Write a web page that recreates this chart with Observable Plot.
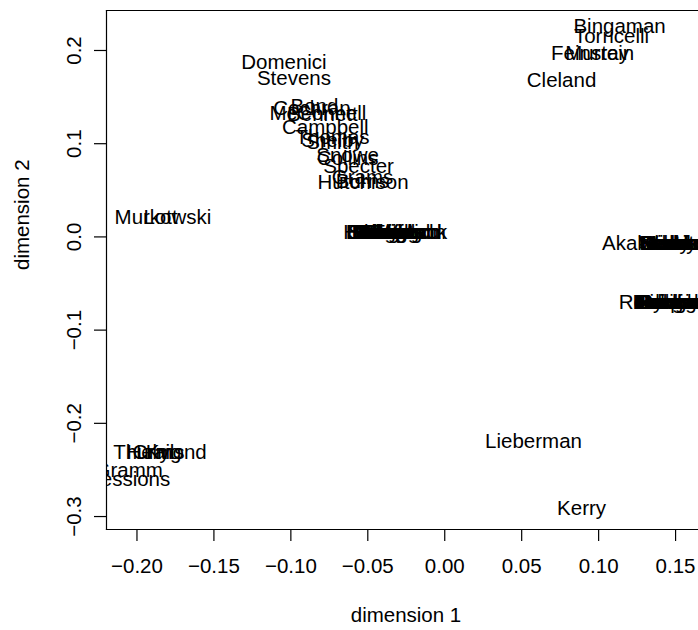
<!DOCTYPE html>
<html><head><meta charset="utf-8">
<script src="https://cdn.jsdelivr.net/npm/d3@7"></script>
<script src="https://cdn.jsdelivr.net/npm/@observablehq/plot@0.6"></script>
<style>html,body{margin:0;padding:0;background:#fff;} svg{display:block}</style>
</head><body><div id="chart"></div>
<script>
const senators = [
  "Bingaman","Torricelli","Feinstein","Murray","Cleland",
  "Domenici","Stevens","Cochran","Bond","McConnell","Bennett","Campbell","Thomas","Smith","Shelby",
  "Snowe","Collins","Specter","Grams","Burns","Hutchison",
  "Murkowski","Lott",
  "Thurmond","Helms","Kyl","Craig","Gramm","Sessions",
  "Lieberman","Kerry",
  "Brownback","Enzi","Allard","Allen","Bunning","Crapo","DeWine","Ensign","Fitzgerald","Frist",
  "Gregg","Hagel","Hatch","Hutchinson","Inhofe","Nickles","Roberts","Santorum","Voinovich","Warner",
  "Akaka","Sarbanes","Wellstone","Daschle","Schumer","Kennedy","Durbin","Harkin","Levin","Boxer",
  "Leahy","Mikulski","Reed","Inouye","Dodd","Clinton","Corzine",
  "Rockefeller","Reid","Conrad","Dorgan","Byrd","Hollings","Feingold","Johnson","Nelson","Baucus",
  "Breaux","Lincoln","Carper","Landrieu"
];
const dim1 = [
  0.1136, 0.1084, 0.0961, 0.0990, 0.0759,
  -0.1045, -0.0980, -0.0863, -0.0847, -0.0824, -0.0795, -0.0776, -0.0729, -0.0729, -0.0729,
  -0.0631, -0.0631, -0.0560, -0.0534, -0.0534, -0.0531,
  -0.1831, -0.1847,
  -0.1850, -0.1880, -0.1850, -0.1870, -0.2054, -0.2054,
  0.0577, 0.0889,
  -0.0313, -0.0469, -0.0385, -0.0417, -0.0391, -0.0352, -0.0365, -0.0378, -0.0313, -0.0339,
  -0.0352, -0.0365, -0.0339, -0.0326, -0.0378, -0.0352, -0.0365, -0.0339, -0.0313, -0.0352,
  0.1207, 0.1545, 0.1552, 0.1506, 0.1532, 0.1532, 0.1467, 0.1467, 0.1435, 0.1441,
  0.1454, 0.1506, 0.1428, 0.1467, 0.1428, 0.1474, 0.1493,
  0.1464, 0.1370, 0.1467, 0.1480, 0.1402, 0.1467, 0.1493, 0.1493, 0.1454, 0.1467,
  0.1454, 0.1467, 0.1454, 0.1480
];
const dim2 = [
  0.2258, 0.2150, 0.1968, 0.1968, 0.1678,
  0.1871, 0.1700, 0.1375, 0.1400, 0.1320, 0.1310, 0.1170, 0.1070, 0.1010, 0.1030,
  0.0870, 0.0840, 0.0755, 0.0640, 0.0590, 0.0584,
  0.0208, 0.0208,
  -0.2313, -0.2313, -0.2313, -0.2313, -0.2506, -0.2603,
  -0.2195, -0.2914,
  0.0047, 0.0047, 0.0047, 0.0050, 0.0044, 0.0047, 0.0047, 0.0050, 0.0047, 0.0044,
  0.0047, 0.0047, 0.0050, 0.0047, 0.0044, 0.0047, 0.0047, 0.0050, 0.0047, 0.0044,
  -0.0071, -0.0071, -0.0074, -0.0068, -0.0071, -0.0074, -0.0071, -0.0068, -0.0071, -0.0074,
  -0.0071, -0.0068, -0.0071, -0.0074, -0.0071, -0.0068, -0.0071,
  -0.0704, -0.0704, -0.0707, -0.0701, -0.0704, -0.0707, -0.0704, -0.0701, -0.0704, -0.0707,
  -0.0704, -0.0701, -0.0704, -0.0707
];
const xTicks = [-0.20, -0.15, -0.10, -0.05, 0.00, 0.05, 0.10, 0.15];
const yTicks = [-0.3, -0.2, -0.1, 0.0, 0.1, 0.2];
const xDomain = [-0.2198, 0.1649];
const yDomain = [-0.3139, 0.2429];
const xTitle = "dimension 1";
const yTitle = "dimension 2";

const data = senators.map((name, i) => ({name, d1: dim1[i], d2: dim2[i]}));
const font = "'Liberation Sans', Arial, Helvetica, sans-serif";

const chart = Plot.plot({
  width: 698, height: 630,
  marginLeft: 106, marginTop: 10, marginBottom: 101, marginRight: 0,
  style: `font-family: ${font}; font-size: 20.5px; background: #fff; color: #000;`,
  x: {domain: xDomain},
  y: {domain: yDomain},
  marks: [
    Plot.frame({anchor: "left", stroke: "#000", strokeWidth: 1.2}),
    Plot.frame({anchor: "top", stroke: "#000", strokeWidth: 1.2}),
    Plot.frame({anchor: "bottom", stroke: "#000", strokeWidth: 1.2}),
    Plot.axisX({ticks: xTicks, tickSize: 12, tickPadding: 17, tickFormat: d3.format(".2f"), label: null, strokeWidth: 1.2}),
    Plot.axisY({ticks: yTicks, tickSize: 12, tickPadding: 14, tickRotate: -90, tickFormat: d3.format(".1f"), label: null, strokeWidth: 1.2}),
    Plot.text(data, {x: "d1", y: "d2", text: "name", fill: "#000", fontSize: 20.5, clip: true}),
    Plot.text([xTitle], {frameAnchor: "bottom", dy: 77.5, dx: 3.5, lineAnchor: "top", fill: "#000"}),
    Plot.text([yTitle], {frameAnchor: "left", dx: -77.5, rotate: -90, lineAnchor: "bottom", fill: "#000"})
  ]
});
document.getElementById("chart").appendChild(chart);
</script>
</body></html>
